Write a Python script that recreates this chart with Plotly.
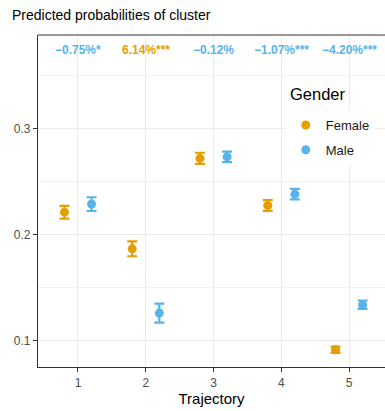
import plotly.graph_objects as go

trajectory = [1, 2, 3, 4, 5]
female_x = [0.8, 1.8, 2.8, 3.8, 4.8]
male_x = [1.2, 2.2, 3.2, 4.2, 5.2]
female_p = [0.2214, 0.1868, 0.2723, 0.2277, 0.0915]
female_err = [0.0060, 0.0070, 0.0052, 0.0050, 0.0030]
male_p = [0.2290, 0.1261, 0.2736, 0.2384, 0.1340]
male_err = [0.0065, 0.0090, 0.0050, 0.0050, 0.0040]
diff_labels = ["\u22120.75%*", "6.14%***", "\u22120.12%", "\u22121.07%***", "\u22124.20%***"]
diff_colors = ["#56B4E9", "#E69F00", "#56B4E9", "#56B4E9", "#56B4E9"]

FEMALE = "#E69F00"
MALE = "#56B4E9"

fig = go.Figure()
for name, xs, ys, es, col in [("Female", female_x, female_p, female_err, FEMALE),
                              ("Male", male_x, male_p, male_err, MALE)]:
    fig.add_trace(go.Scatter(
        x=xs, y=ys, mode="markers", name=name, legendgroup=name,
        marker=dict(color=col, size=9),
        error_y=dict(type="data", array=es, visible=True, color=col, thickness=2.2, width=5),
    ))

for t, lab, col in zip(trajectory, diff_labels, diff_colors):
    fig.add_annotation(x=t, y=0.3745, text=lab, showarrow=False,
                       font=dict(color=col, size=12, family="Liberation Sans, Arial", weight="bold"),
                       xanchor="center", yanchor="middle")

# legend title as text
fig.add_annotation(xref="paper", yref="paper", x=(288 - 38) / 347, y=(367 - 94) / 332,
                   text="Gender", showarrow=False, xanchor="left", yanchor="middle",
                   font=dict(size=16.5, color="#000000"), bgcolor="white")

fig.update_layout(
    width=385, height=411,
    margin=dict(l=38, r=0, t=35, b=44),
    paper_bgcolor="white", plot_bgcolor="white",
    font=dict(family="Liberation Sans, Arial", color="#000000"),
    title=dict(text="Predicted probabilities of cluster", x=12/385, xanchor="left",
               y=1 - 15/411, yanchor="middle", font=dict(size=14, color="#000000")),
    legend=dict(x=0.714, y=(367 - 110) / 332, xanchor="left", yanchor="top",
                bgcolor="white", font=dict(size=13, color="#1A1A1A"),
                itemsizing="trace", tracegroupgap=5),
    xaxis=dict(range=[0.41, 5.53], tickvals=trajectory, ticktext=[str(t) for t in trajectory],
               showgrid=True, gridcolor="#EBEBEB", gridwidth=1.1,
               showline=True, linecolor="#333333", linewidth=1.2, mirror=False,
               ticks="outside", ticklen=4, tickcolor="#333333",
               tickfont=dict(size=12, color="#4D4D4D"), zeroline=False,
               title=dict(text="Trajectory", font=dict(size=15, color="#000000"), standoff=4)),
    yaxis=dict(range=[0.0752, 0.3887], tickvals=[0.1, 0.2, 0.3], ticktext=["0.1", "0.2", "0.3"],
               showgrid=True, gridcolor="#EBEBEB", gridwidth=1.1,
               minor=dict(tickvals=[0.15, 0.25, 0.35], showgrid=True, gridcolor="#F2F2F2", gridwidth=0.6),
               showline=True, linecolor="#333333", linewidth=1.2,
               ticks="outside", ticklen=4, tickcolor="#333333",
               tickfont=dict(size=12, color="#4D4D4D"), zeroline=False),
    showlegend=True,
)
fig.add_shape(type="line", xref="paper", yref="paper", x0=0, x1=1, y0=1, y1=1,
              line=dict(color="#333333", width=1.2))

fig.write_html("out.html")
